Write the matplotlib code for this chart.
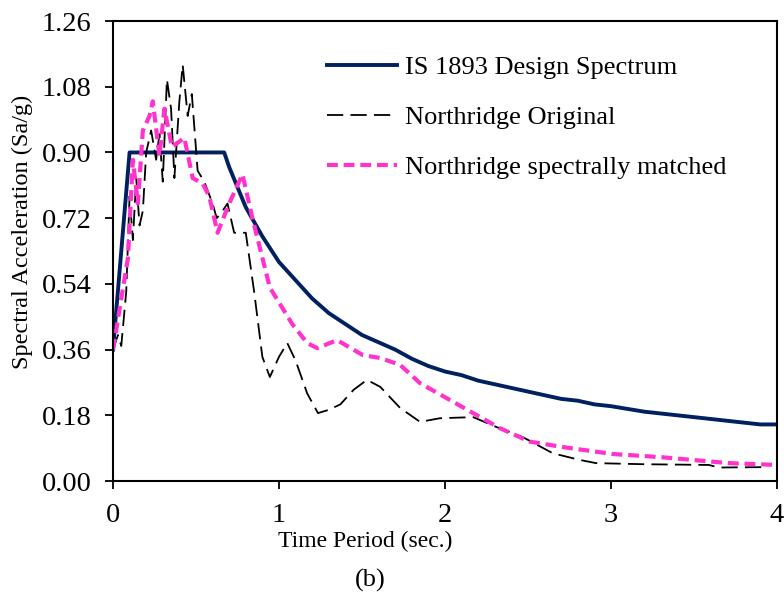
import numpy as np
from matplotlib import pyplot as plt

plt.rcParams['font.family'] = ['Liberation Serif', 'DejaVu Serif']

# IS 1893 design spectrum
t_is = [0.0, 0.10, 0.67, 0.70, 0.80, 0.90, 1.00, 1.10, 1.20, 1.30, 1.40, 1.50,
        1.60, 1.70, 1.80, 1.90, 2.00, 2.10, 2.20, 2.40, 2.50, 2.60, 2.70, 2.80,
        2.90, 3.00, 3.20, 3.40, 3.60, 3.80, 3.90, 4.00]
sa_is = [0.36, 0.90, 0.90, 0.86, 0.75, 0.67, 0.60, 0.55, 0.50, 0.46, 0.43, 0.40,
         0.38, 0.36, 0.335, 0.315, 0.30, 0.29, 0.275, 0.255, 0.245, 0.235, 0.225, 0.22,
         0.21, 0.205, 0.19, 0.18, 0.17, 0.16, 0.155, 0.155]

# Northridge original
t_orig = [0.0, 0.03, 0.05, 0.08, 0.10, 0.12, 0.14, 0.16, 0.18, 0.20, 0.23, 0.26,
          0.28, 0.30, 0.325, 0.35, 0.37, 0.40, 0.42, 0.45, 0.475, 0.51, 0.55, 0.60,
          0.625, 0.66, 0.69, 0.73, 0.80, 0.85, 0.90, 0.945, 1.00, 1.05, 1.10, 1.17,
          1.235, 1.30, 1.37, 1.45, 1.53, 1.61, 1.73, 1.85, 1.97, 2.17, 2.31, 2.47,
          2.65, 2.81, 2.91, 3.20, 3.59, 3.65, 3.91]
sa_orig = [0.36, 0.40, 0.37, 0.52, 0.78, 0.66, 0.83, 0.70, 0.74, 0.90, 0.96, 0.88,
           0.95, 0.82, 1.10, 1.02, 0.83, 1.04, 1.14, 1.00, 1.06, 0.85, 0.82, 0.76,
           0.72, 0.74, 0.76, 0.68, 0.68, 0.52, 0.34, 0.285, 0.34, 0.378, 0.33, 0.24,
           0.186, 0.195, 0.21, 0.25, 0.277, 0.258, 0.20, 0.162, 0.172, 0.175, 0.148, 0.12,
           0.076, 0.058, 0.049, 0.046, 0.044, 0.037, 0.038]

# Northridge spectrally matched
t_match = [0.0, 0.01, 0.05, 0.09, 0.12, 0.15, 0.18, 0.22, 0.24, 0.28, 0.31, 0.355,
           0.43, 0.48, 0.54, 0.58, 0.63, 0.70, 0.78, 0.84, 0.945, 1.08, 1.17, 1.23,
           1.35, 1.505, 1.61, 1.73, 1.85, 2.01, 2.17, 2.33, 2.51, 2.71, 3.01, 3.31,
           3.71, 4.00]
sa_match = [0.36, 0.386, 0.50, 0.61, 0.88, 0.76, 0.96, 1.00, 1.04, 0.89, 1.02, 0.915,
            0.94, 0.83, 0.815, 0.78, 0.68, 0.76, 0.84, 0.72, 0.53, 0.43, 0.378, 0.364,
            0.386, 0.345, 0.337, 0.318, 0.268, 0.227, 0.186, 0.145, 0.108, 0.093, 0.074, 0.065,
            0.049, 0.044]

fig = plt.figure(figsize=(7.84, 5.94), dpi=100)
ax = fig.add_axes([0.1441, 0.1902, 0.8469, 0.7744])

ax.plot(t_is, sa_is, color='#002060', lw=2.8, label='IS 1893 Design Spectrum')
ax.plot(t_orig, sa_orig, color='black', lw=1.3, dashes=(9, 4), label='Northridge Original')
ax.plot(t_match, sa_match, color='#FF33CC', lw=3.0, dashes=(2.6, 1.4),
        label='Northridge spectrally matched')

ax.set_xlim(0, 4)
ax.set_ylim(0, 1.26)
ax.set_xticks([0, 1, 2, 3, 4])
ax.set_yticks(np.arange(0, 1.27, 0.18))
ax.set_yticklabels(['%.2f' % v for v in np.arange(0, 1.27, 0.18)])
ax.tick_params(direction='out', length=5.5, width=1.3, labelsize=20.5, pad=10)
for s in ax.spines.values():
    s.set_linewidth(1.5)

fig.text(365 / 784, 1 - 541 / 594, 'Time Period (sec.)', ha='center', va='center', fontsize=17)
fig.text(370 / 784, 1 - 580 / 594, '(b)', ha='center', va='center', fontsize=19)
fig.text(22 / 784, 1 - 232 / 594, 'Spectral Acceleration (Sa/g)', rotation=90,
         ha='center', va='center', fontsize=17.5)

ax.legend(loc='upper left', bbox_to_anchor=(327 / 784, 1 - 56 / 594),
          bbox_transform=fig.transFigure, frameon=False, fontsize=19,
          handlelength=2.65, handletextpad=0.3, labelspacing=1.0,
          borderpad=0, borderaxespad=0)

fig.savefig('out.png', dpi=100)
